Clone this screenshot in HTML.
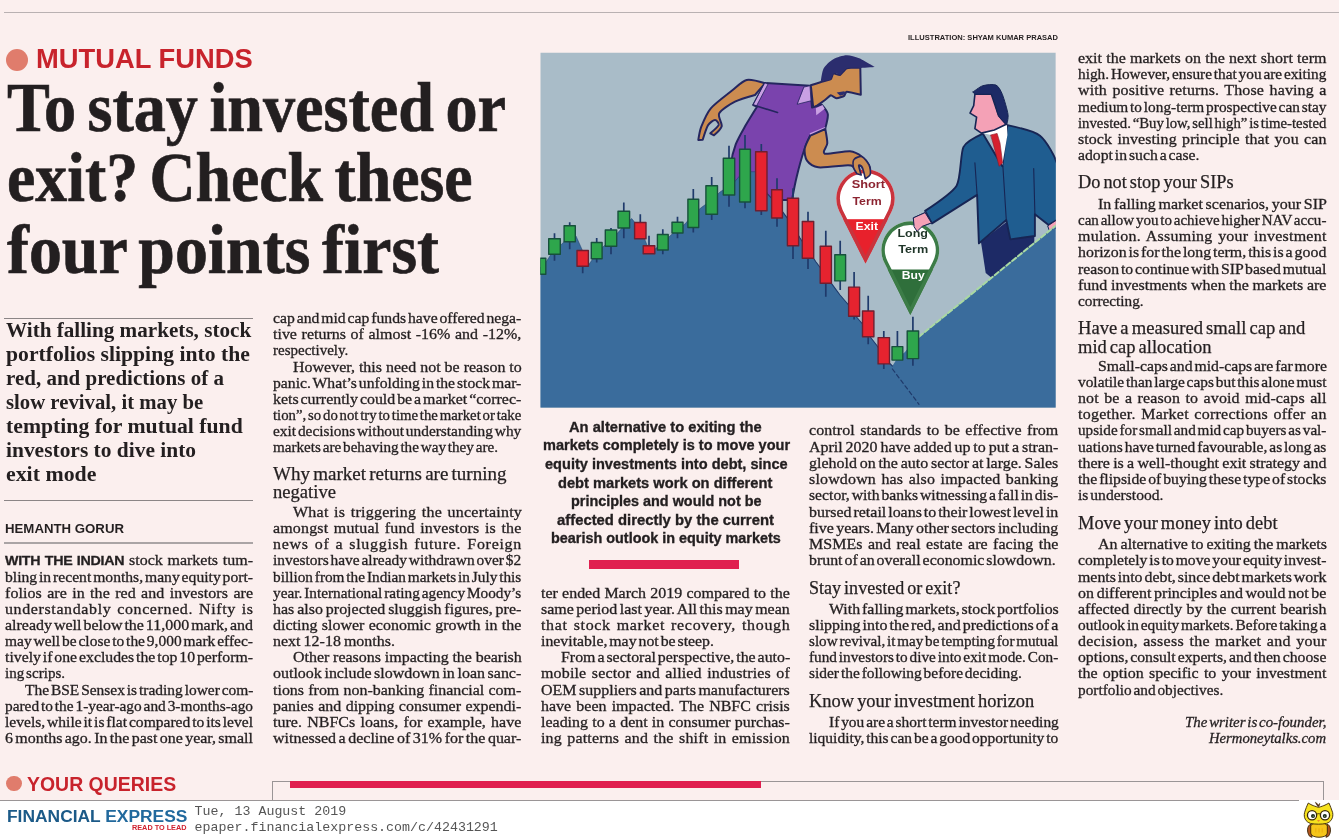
<!DOCTYPE html>
<html><head><meta charset="utf-8"><title>To stay invested or exit?</title>
<style>
html,body{margin:0;padding:0;overflow:hidden}
body{width:1339px;height:840px;position:relative;overflow:hidden;background:#fbefee;color:#231f20}
.t{position:absolute;white-space:pre;transform-origin:0 50%;margin:0}
.se{font-family:'Liberation Serif', serif}
.sa{font-family:'Liberation Sans', sans-serif}
.mo{font-family:'Liberation Mono', monospace}
.b{font-weight:bold}
.i{font-style:italic}
.lead{font-family:'Liberation Sans',sans-serif;font-weight:bold;font-size:13.2px;letter-spacing:-0.25px}
.r{position:absolute}
.bd{-webkit-text-stroke:0.3px #231f20}
</style></head><body>
<div class="r" style="left:4px;top:11.5px;width:1335px;height:1.3px;background:#b9b1b2"></div>
<div class="r" style="left:6px;top:49px;width:22px;height:22px;border-radius:50%;background:#e07c6c"></div>
<div class="r" style="left:4.3px;top:318px;width:249px;height:1.2px;background:#8b8586"></div>
<div class="r" style="left:4.3px;top:500px;width:249px;height:1.2px;background:#8b8586"></div>
<div class="r" style="left:4.3px;top:542.3px;width:249px;height:2px;background:#aaa4a5"></div>
<div class="r" style="left:588.8px;top:559.6px;width:150.2px;height:9.4px;background:#e01f4f"></div>
<div class="r" style="left:6px;top:775.8px;width:15.6px;height:15.6px;border-radius:50%;background:#e07c6c"></div>
<div class="r" style="left:0;top:800.6px;width:1339px;height:40px;background:#fff"></div>
<div class="r" style="left:271.5px;top:780.6px;width:1052px;height:20px;border:1px solid #9a9596;border-bottom:none;box-sizing:border-box"></div>
<div class="r" style="left:0;top:800px;width:1299px;height:1.2px;background:#9a9596"></div>
<div class="r" style="left:289.8px;top:781.3px;width:470.8px;height:7px;background:#e01f4f"></div>
<svg class="r" style="left:0;top:0;will-change:transform" width="1339" height="840" viewBox="0 0 1339 840">
<defs><clipPath id="ic"><rect x="540.3" y="52.5" width="515.5" height="355.3"/></clipPath></defs>
<g clip-path="url(#ic)" stroke-linejoin="round" stroke-linecap="round">
<rect x="540.3" y="52.5" width="515.5" height="355.3" fill="#a9bcc8"/>
<path d="M765.0,83.3 C765.0,83.3 751.1,79.0 746.7,80.0 C742.2,81.0 736.4,87.1 731.7,90.8 C726.9,94.6 714.9,103.6 710.8,108.3 C706.8,113.1 703.0,122.4 701.3,126.7 C699.7,130.9 698.3,140.0 698.3,140.0 C698.3,140.0 702.7,139.7 702.7,139.7 C702.7,139.7 706.4,128.0 708.0,125.3 C709.6,122.7 713.6,120.0 715.0,120.0 C716.4,120.0 719.3,123.2 718.7,125.0 C718.0,126.8 710.3,133.3 710.3,133.3 C710.3,133.3 714.0,135.3 714.0,135.3 C714.0,135.3 721.0,129.3 721.7,126.3 C722.4,123.4 717.4,116.6 719.2,113.3 C720.9,110.0 730.2,104.1 735.0,101.7 C739.8,99.2 755.0,95.0 755.0,95.0 C755.0,95.0 765.0,83.3 765.0,83.3 Z" fill="#cc8c50" stroke="#25265f" stroke-width="2"/>
<path d="M810.8,85.3 C810.8,85.3 820.0,82.2 821.7,81.7 C823.3,81.2 829.9,79.9 830.8,79.2 C831.8,78.5 832.6,73.7 833.3,73.3 C834.1,73.0 838.9,75.4 840.0,75.0 C841.1,74.6 845.0,69.0 846.7,68.3 C848.4,67.7 860.3,67.5 860.3,67.5 C860.3,67.5 860.8,94.7 860.8,94.7 C860.8,94.7 848.1,91.6 846.7,91.7 C845.3,91.8 845.0,95.3 844.2,95.8 C843.3,96.4 837.8,98.4 836.7,98.3 C835.6,98.3 831.8,95.2 830.8,95.3 C829.9,95.5 826.5,98.9 825.0,100.0 C823.5,101.1 813.3,108.3 813.3,108.3 C813.3,108.3 810.8,85.3 810.8,85.3 Z" fill="#cc8c50" stroke="#25265f" stroke-width="2"/>
<path d="M820.8,81.3 C820.8,81.3 822.0,71.3 823.7,68.3 C825.3,65.4 830.3,60.9 833.3,59.2 C836.4,57.4 843.2,55.4 846.7,55.3 C850.1,55.2 855.4,56.8 859.2,58.3 C862.9,59.9 874.7,67.0 874.7,67.0 C874.7,67.0 860.3,68.0 860.3,68.0 C860.3,68.0 849.3,67.4 846.7,68.3 C844.0,69.3 840.3,75.3 840.3,75.3 C840.3,75.3 835.4,72.4 834.2,73.0 C832.9,73.6 830.8,79.7 830.8,79.7 C830.8,79.7 820.8,81.3 820.8,81.3 Z" fill="#2b2d6e"/>
<polygon points="836.7,92.5 844.2,91.3 846.7,93.7 840.0,95.8" fill="#2b2d6e"/>
<path d="M765.0,83.0 C765.0,83.0 810.0,85.7 810.0,85.7 C810.0,85.7 812.0,107.5 812.0,107.5 C812.0,107.5 821.7,104.7 821.7,104.7 C821.7,104.7 827.3,111.0 827.8,114.2 C828.3,117.3 825.3,128.3 825.3,128.3 C825.3,128.3 810.3,135.3 810.3,135.3 C810.3,135.3 806.0,144.5 804.2,150.0 C802.3,155.5 798.3,170.0 796.7,176.7 C795.0,183.3 792.0,200.0 792.0,200.0 C792.0,200.0 730.0,200.0 730.0,200.0 C730.0,200.0 730.1,172.4 730.8,165.0 C731.6,157.6 733.8,149.5 735.8,144.2 C737.8,138.8 743.0,130.0 745.8,125.0 C748.7,120.0 757.0,106.7 757.0,106.7 C757.0,106.7 753.3,105.0 753.3,105.0 C753.3,105.0 765.0,83.0 765.0,83.0 Z" fill="#7a43ad" stroke="#25265f" stroke-width="2"/>
<polygon points="765.0,83.0 768.0,84.2 756.3,106.3 753.3,105.0" fill="#c9a0e3" stroke="#25265f" stroke-width="0.8"/>
<polyline points="753.3,105.0 777.5,112.5" fill="none" stroke="#25265f" stroke-width="1.7"/>
<polygon points="804.2,87.0 810.0,85.7 811.0,100.8 797.5,104.2" fill="#c9a0e3" stroke="#25265f" stroke-width="0.8"/>
<polygon points="815.8,108.3 822.5,105.0 824.7,108.7 816.3,115.3" fill="#c9a0e3"/>
<polygon points="809.7,133.3 825.0,127.0 825.7,129.7 810.3,136.0" fill="#c9a0e3"/>
<path d="M810.3,135.7 C810.3,135.7 825.3,129.0 825.3,129.0 C825.3,129.0 827.4,140.0 827.3,143.3 C827.2,146.6 821.6,152.6 824.7,153.7 C827.7,154.7 845.0,150.9 850.0,151.3 C855.0,151.7 859.5,154.8 862.0,156.7 C864.5,158.5 867.9,162.7 869.0,165.0 C870.1,167.3 870.8,172.3 870.3,174.2 C869.8,176.0 865.3,178.7 865.3,178.7 C865.3,178.7 863.2,169.1 862.3,167.3 C861.4,165.6 858.8,164.3 858.7,165.3 C858.5,166.4 861.2,175.0 861.2,175.0 C861.2,175.0 857.0,173.7 857.0,173.7 C857.0,173.7 854.5,168.1 853.3,167.0 C852.1,165.9 852.7,165.3 848.0,165.3 C843.3,165.4 823.8,168.0 818.3,167.3 C812.9,166.7 808.8,163.2 807.0,160.7 C805.2,158.2 804.2,152.0 804.7,148.7 C805.1,145.3 810.3,135.7 810.3,135.7 Z" fill="#cc8c50" stroke="#25265f" stroke-width="2"/>
<polygon points="980.9,241.4 1007.1,221.4 1034.3,231.4 1034.3,242.9 1025.7,260.0 994.3,280.0 985.7,272.9" fill="#1d2a66"/>
<path d="M982.9,133.7 C982.9,133.7 966.5,141.1 963.4,147.1 C960.4,153.2 961.0,178.3 956.6,185.7 C952.1,193.1 925.1,210.9 925.1,210.9 C925.1,210.9 932.0,223.4 932.0,223.4 C932.0,223.4 977.1,194.9 977.1,194.9 C977.1,194.9 978.9,243.4 978.9,243.4 C978.9,243.4 1006.3,220.0 1006.3,220.0 C1006.3,220.0 1010.3,239.4 1010.3,239.4 C1010.3,239.4 1034.9,236.0 1034.9,236.0 C1034.9,236.0 1034.9,214.3 1034.9,214.3 C1034.9,214.3 1048.6,225.1 1048.6,225.1 C1048.6,225.1 1057.1,220.0 1057.1,220.0 C1057.1,220.0 1059.7,176.1 1057.7,166.3 C1055.7,156.5 1045.9,140.5 1040.0,135.7 C1034.1,130.9 1007.4,125.1 1007.4,125.1 C1007.4,125.1 1002.3,166.3 1002.3,166.3 C1002.3,166.3 982.9,133.7 982.9,133.7 Z" fill="#1f5d90" stroke="#172554" stroke-width="1.9"/>
<polyline points="977.1,194.9 974.9,162.9" fill="none" stroke="#172554" stroke-width="1.1"/>
<polyline points="1034.9,214.3 1033.7,168.6" fill="none" stroke="#172554" stroke-width="1.1"/>
<polyline points="1006.3,220.0 1002.9,166.3" fill="none" stroke="#172554" stroke-width="1.1"/>
<polygon points="981.7,133.1 1006.9,124.6 1007.4,134.9 1002.3,165.1 991.4,134.9" fill="#fff"/>
<polygon points="990.9,134.9 997.1,133.4 1000.0,142.9 1002.6,162.9 999.1,166.3 993.1,143.4" fill="#d5212f" stroke="#8a1a28" stroke-width="0.6"/>
<polygon points="974.9,94.3 991.4,94.3 994.3,102.9 998.6,115.7 1006.3,124.3 994.3,130.0 981.4,133.1 974.9,128.6 976.6,117.1 970.0,113.1 973.7,105.7" fill="#f4a1b6" stroke="#172554" stroke-width="1.6"/>
<path d="M973.1,92.0 C973.1,92.0 979.8,86.6 982.9,85.7 C985.9,84.8 993.4,84.0 996.0,85.1 C998.6,86.3 1000.7,90.4 1002.3,94.3 C1003.9,98.2 1007.4,110.2 1008.0,114.3 C1008.6,118.4 1006.6,125.1 1006.6,125.1 C1006.6,125.1 1000.1,118.7 998.6,115.7 C997.0,112.7 995.8,105.7 994.9,102.9 C993.9,100.0 991.4,94.3 991.4,94.3 C991.4,94.3 974.9,94.3 974.9,94.3 C974.9,94.3 973.1,92.0 973.1,92.0 Z" fill="#1d2a66" stroke="#172554" stroke-width="1"/>
<polygon points="913.7,217.7 925.1,212.6 931.4,222.9 922.3,226.3 917.1,231.4 914.3,227.1" fill="#f4a1b6" stroke="#172554" stroke-width="1"/>
<polygon points="1048.0,225.7 1056.6,220.0 1057.7,227.1 1050.0,231.4" fill="#f4a1b6" stroke="#172554" stroke-width="1"/>
<polygon points="540.3,268.0 546.0,262.0 554.5,249.0 562.0,244.0 569.7,235.0 576.0,236.0 582.7,251.0 588.5,265.0 592.0,260.0 596.7,252.0 604.0,246.0 611.0,240.0 617.5,233.0 623.8,226.0 629.0,221.0 631.7,218.5 634.5,222.0 640.3,232.0 645.0,240.0 649.0,250.0 655.0,249.0 662.8,243.0 670.0,236.0 677.5,229.0 685.0,224.0 693.3,214.0 702.0,207.0 711.7,200.0 720.0,192.0 729.0,186.0 734.7,181.7 739.7,175.8 750.5,171.7 755.5,171.7 761.3,182.0 767.0,193.3 771.7,198.3 777.0,205.0 782.5,211.7 787.5,218.3 793.0,226.0 800.0,238.0 808.0,250.0 816.0,262.0 825.8,275.0 831.4,283.3 840.0,295.0 848.6,305.0 854.0,314.0 862.5,324.0 868.0,334.0 878.0,347.0 884.0,358.0 892.4,366.0 897.4,358.0 905.0,352.0 912.9,342.0 919.0,336.7 1025.7,250.0 1055.8,225.5 1055.8,407.8 540.3,407.8" fill="#3a6c9c"/>
<polyline points="755.5,171.7 761.3,182.0 767.0,193.3 771.7,198.3 777.0,205.0 782.5,211.7 787.5,218.3 793.0,226.0 800.0,238.0 808.0,250.0 816.0,262.0 825.8,275.0 831.4,283.3 840.0,295.0 848.6,305.0 854.0,314.0 862.5,324.0 868.0,334.0 878.0,347.0 884.0,358.0 892.4,366.0" fill="none" stroke="#1f3a6b" stroke-width="1.1"/>
<polyline points="540.3,268.0 546.0,262.0 554.5,249.0 562.0,244.0 569.7,235.0 576.0,236.0 582.7,251.0 588.5,265.0 592.0,260.0 596.7,252.0 604.0,246.0 611.0,240.0 617.5,233.0 623.8,226.0 629.0,221.0 631.7,218.5 634.5,222.0 640.3,232.0 645.0,240.0 649.0,250.0 655.0,249.0 662.8,243.0 670.0,236.0 677.5,229.0 685.0,224.0 693.3,214.0 702.0,207.0 711.7,200.0 720.0,192.0 729.0,186.0 734.7,181.7 739.7,175.8 750.5,171.7 755.5,171.7" fill="none" stroke="#1f3a6b" stroke-width="0.9" opacity="0.55"/>
<line x1="919" y1="336.7" x2="1055.8" y2="225.5" stroke="#a9d9a2" stroke-width="2" stroke-dasharray="5 2.5"/>
<line x1="892.4" y1="369" x2="919" y2="404.3" stroke="#1f3a6b" stroke-width="1.2" stroke-dasharray="4 3"/>
<line x1="542.9" y1="258.3" x2="542.9" y2="274.2" stroke="#1f3a6b" stroke-width="1.7" stroke-linecap="butt"/>
<rect x="540.0" y="258.3" width="5.8" height="15.9" fill="#2ea64c" stroke="#17503c" stroke-width="1.4"/>
<line x1="554.5" y1="233.3" x2="554.5" y2="260.8" stroke="#1f3a6b" stroke-width="1.7" stroke-linecap="butt"/>
<rect x="548.7" y="238.7" width="11.6" height="15.5" fill="#2ea64c" stroke="#17503c" stroke-width="1.4"/>
<line x1="569.7" y1="222.2" x2="569.7" y2="249.2" stroke="#1f3a6b" stroke-width="1.7" stroke-linecap="butt"/>
<rect x="564.1" y="225.8" width="11.2" height="15.9" fill="#2ea64c" stroke="#17503c" stroke-width="1.4"/>
<line x1="582.7" y1="250.5" x2="582.7" y2="273.3" stroke="#1f3a6b" stroke-width="1.7" stroke-linecap="butt"/>
<rect x="577.0" y="250.5" width="11.4" height="15.8" fill="#e6232f" stroke="#6e1f30" stroke-width="1.4"/>
<line x1="596.7" y1="238.0" x2="596.7" y2="262.5" stroke="#1f3a6b" stroke-width="1.7" stroke-linecap="butt"/>
<rect x="591.3" y="242.5" width="10.8" height="16.2" fill="#2ea64c" stroke="#17503c" stroke-width="1.4"/>
<line x1="611.0" y1="228.0" x2="611.0" y2="254.2" stroke="#1f3a6b" stroke-width="1.7" stroke-linecap="butt"/>
<rect x="605.3" y="230.0" width="11.4" height="16.2" fill="#2ea64c" stroke="#17503c" stroke-width="1.4"/>
<line x1="623.8" y1="202.5" x2="623.8" y2="238.3" stroke="#1f3a6b" stroke-width="1.7" stroke-linecap="butt"/>
<rect x="618.0" y="211.3" width="11.6" height="16.7" fill="#2ea64c" stroke="#17503c" stroke-width="1.4"/>
<line x1="640.3" y1="214.2" x2="640.3" y2="238.7" stroke="#1f3a6b" stroke-width="1.7" stroke-linecap="butt"/>
<rect x="634.6" y="222.5" width="11.4" height="16.2" fill="#e6232f" stroke="#6e1f30" stroke-width="1.4"/>
<line x1="649.0" y1="235.8" x2="649.0" y2="253.7" stroke="#1f3a6b" stroke-width="1.7" stroke-linecap="butt"/>
<rect x="643.2" y="245.8" width="11.6" height="7.9" fill="#e6232f" stroke="#6e1f30" stroke-width="1.4"/>
<line x1="662.8" y1="229.2" x2="662.8" y2="254.2" stroke="#1f3a6b" stroke-width="1.7" stroke-linecap="butt"/>
<rect x="657.4" y="234.5" width="10.8" height="15.5" fill="#2ea64c" stroke="#17503c" stroke-width="1.4"/>
<line x1="677.5" y1="216.7" x2="677.5" y2="238.3" stroke="#1f3a6b" stroke-width="1.7" stroke-linecap="butt"/>
<rect x="672.0" y="222.2" width="11.0" height="10.8" fill="#2ea64c" stroke="#17503c" stroke-width="1.4"/>
<line x1="693.3" y1="189.0" x2="693.3" y2="232.5" stroke="#1f3a6b" stroke-width="1.7" stroke-linecap="butt"/>
<rect x="687.9" y="199.2" width="10.8" height="28.3" fill="#2ea64c" stroke="#17503c" stroke-width="1.4"/>
<line x1="711.7" y1="177.0" x2="711.7" y2="220.0" stroke="#1f3a6b" stroke-width="1.7" stroke-linecap="butt"/>
<rect x="705.9" y="185.8" width="11.6" height="28.4" fill="#2ea64c" stroke="#17503c" stroke-width="1.4"/>
<line x1="729.0" y1="145.8" x2="729.0" y2="206.7" stroke="#1f3a6b" stroke-width="1.7" stroke-linecap="butt"/>
<rect x="723.3" y="158.3" width="11.4" height="36.7" fill="#2ea64c" stroke="#17503c" stroke-width="1.4"/>
<line x1="745.0" y1="135.0" x2="745.0" y2="208.3" stroke="#1f3a6b" stroke-width="1.7" stroke-linecap="butt"/>
<rect x="739.6" y="149.2" width="10.8" height="52.8" fill="#2ea64c" stroke="#17503c" stroke-width="1.4"/>
<line x1="761.3" y1="144.0" x2="761.3" y2="215.0" stroke="#1f3a6b" stroke-width="1.7" stroke-linecap="butt"/>
<rect x="755.6" y="151.7" width="11.4" height="59.1" fill="#e6232f" stroke="#6e1f30" stroke-width="1.4"/>
<line x1="777.0" y1="178.3" x2="777.0" y2="226.7" stroke="#1f3a6b" stroke-width="1.7" stroke-linecap="butt"/>
<rect x="771.6" y="189.7" width="10.8" height="28.3" fill="#e6232f" stroke="#6e1f30" stroke-width="1.4"/>
<line x1="793.0" y1="188.3" x2="793.0" y2="259.0" stroke="#1f3a6b" stroke-width="1.7" stroke-linecap="butt"/>
<rect x="787.4" y="198.3" width="11.2" height="47.5" fill="#e6232f" stroke="#6e1f30" stroke-width="1.4"/>
<line x1="808.0" y1="211.7" x2="808.0" y2="269.0" stroke="#1f3a6b" stroke-width="1.7" stroke-linecap="butt"/>
<rect x="802.3" y="221.5" width="11.4" height="36.8" fill="#e6232f" stroke="#6e1f30" stroke-width="1.4"/>
<line x1="825.8" y1="230.8" x2="825.8" y2="296.7" stroke="#1f3a6b" stroke-width="1.7" stroke-linecap="butt"/>
<rect x="820.2" y="246.3" width="11.2" height="37.0" fill="#e6232f" stroke="#6e1f30" stroke-width="1.4"/>
<line x1="840.2" y1="240.8" x2="840.2" y2="290.0" stroke="#1f3a6b" stroke-width="1.7" stroke-linecap="butt"/>
<rect x="834.8" y="254.8" width="10.8" height="26.1" fill="#2ea64c" stroke="#17503c" stroke-width="1.4"/>
<line x1="854.1" y1="271.9" x2="854.1" y2="319.5" stroke="#1f3a6b" stroke-width="1.7" stroke-linecap="butt"/>
<rect x="848.6" y="287.1" width="11.0" height="29.2" fill="#e6232f" stroke="#6e1f30" stroke-width="1.4"/>
<line x1="868.2" y1="295.7" x2="868.2" y2="344.3" stroke="#1f3a6b" stroke-width="1.7" stroke-linecap="butt"/>
<rect x="862.5" y="311.0" width="11.4" height="25.7" fill="#e6232f" stroke="#6e1f30" stroke-width="1.4"/>
<line x1="883.8" y1="331.0" x2="883.8" y2="369.0" stroke="#1f3a6b" stroke-width="1.7" stroke-linecap="butt"/>
<rect x="878.1" y="337.6" width="11.4" height="26.3" fill="#e6232f" stroke="#6e1f30" stroke-width="1.4"/>
<line x1="897.4" y1="331.0" x2="897.4" y2="360.1" stroke="#1f3a6b" stroke-width="1.7" stroke-linecap="butt"/>
<rect x="892.0" y="346.6" width="10.8" height="13.5" fill="#2ea64c" stroke="#17503c" stroke-width="1.4"/>
<line x1="912.9" y1="316.7" x2="912.9" y2="365.8" stroke="#1f3a6b" stroke-width="1.7" stroke-linecap="butt"/>
<rect x="907.2" y="331.0" width="11.4" height="27.6" fill="#2ea64c" stroke="#17503c" stroke-width="1.4"/>
<clipPath id="pc865"><path d="M839.42,211.74 A29.2,29.2 0 1 1 891.58,211.74 L865.5,263.5 Z"/></clipPath><path d="M839.42,211.74 A29.2,29.2 0 1 1 891.58,211.74 L865.5,263.5 Z" fill="#fff"/><rect x="834.3" y="219.2" width="62.4" height="46.30000000000001" fill="#e8212c" clip-path="url(#pc865)"/><path d="M839.42,211.74 A29.2,29.2 0 1 1 891.58,211.74 L865.5,263.5 Z" fill="none" stroke="#c9333d" stroke-width="7.2" clip-path="url(#pc865)"/>
<clipPath id="pc910"><path d="M884.43,263.09 A28.9,28.9 0 1 1 936.17,263.09 L910.3,315.0 Z"/></clipPath><path d="M884.43,263.09 A28.9,28.9 0 1 1 936.17,263.09 L910.3,315.0 Z" fill="#fff"/><rect x="879.4" y="269.5" width="61.8" height="47.5" fill="#2f6f3b" clip-path="url(#pc910)"/><path d="M884.43,263.09 A28.9,28.9 0 1 1 936.17,263.09 L910.3,315.0 Z" fill="none" stroke="#3c7c47" stroke-width="7.2" clip-path="url(#pc910)"/>
<path d="M853.3,167.0 C853.7,168.9 857.0,173.7 857.0,173.7 C857.0,173.7 861.2,175.0 861.2,175.0 C861.2,175.0 858.5,166.4 858.7,165.3 C858.8,164.3 861.4,165.6 862.3,167.3 C863.2,169.1 865.3,178.7 865.3,178.7 C865.3,178.7 869.8,176.0 870.3,174.2 C870.8,172.3 870.1,167.3 869.0,165.0 C867.9,162.7 864.0,157.4 862.0,156.7 C860.0,155.9 855.3,157.8 854.2,159.2 C853.0,160.5 853.0,165.1 853.3,167.0 Z" fill="#cc8c50" stroke="#25265f" stroke-width="1.6"/>
<polygon points="913.7,217.7 925.1,212.6 931.4,222.9 922.3,226.3 917.1,231.4 914.3,227.1" fill="#f4a1b6" stroke="#172554" stroke-width="1"/>
</g>
<text x="851.7" y="187.5" textLength="33.3" lengthAdjust="spacingAndGlyphs" font-family="'Liberation Sans', sans-serif" font-weight="bold" font-size="11.4" fill="#8c2431">Short</text>
<text x="852.5" y="204.7" textLength="29.2" lengthAdjust="spacingAndGlyphs" font-family="'Liberation Sans', sans-serif" font-weight="bold" font-size="11.4" fill="#8c2431">Term</text>
<text x="855.5" y="229.7" textLength="22.5" lengthAdjust="spacingAndGlyphs" font-family="'Liberation Sans', sans-serif" font-weight="bold" font-size="11.4" fill="#fff">Exit</text>
<text x="897.5" y="236.7" textLength="30.5" lengthAdjust="spacingAndGlyphs" font-family="'Liberation Sans', sans-serif" font-weight="bold" font-size="11.4" fill="#1f3528">Long</text>
<text x="898.3" y="253.3" textLength="30.0" lengthAdjust="spacingAndGlyphs" font-family="'Liberation Sans', sans-serif" font-weight="bold" font-size="11.4" fill="#1f3528">Term</text>
<text x="901.7" y="279.3" textLength="23.0" lengthAdjust="spacingAndGlyphs" font-family="'Liberation Sans', sans-serif" font-weight="bold" font-size="11.4" fill="#fff">Buy</text>
</svg>
<div class="r" style="left:1298.6px;top:799.6px;width:41px;height:41px;background:#fff"></div>
<svg class="r" style="left:1289px;top:795px" width="50" height="45" viewBox="0 0 933 840">
<g stroke="#3a2708" stroke-width="17" stroke-linejoin="round">
<path d="M410,545 C335,560 325,700 385,770 L430,790 Z" fill="#b2551f"/>
<path d="M710,545 C785,560 795,700 735,770 L690,790 Z" fill="#b2551f"/>
<path d="M405,580 C405,500 715,500 715,580 L715,710 C715,815 405,815 405,710 Z" fill="#f6c61a"/>
<path d="M540,215 C520,190 500,160 490,135 C520,150 540,170 548,190 C556,170 566,160 576,155 C574,180 568,200 560,215 Z" fill="#5a2a10" stroke-width="8"/>
<path d="M360,150 C400,175 440,200 552,230 C660,200 700,175 745,150 C770,200 790,260 815,330 C830,420 790,500 700,530 C620,550 480,550 400,530 C310,500 270,420 290,330 C310,260 335,200 360,150 Z" fill="#f6e21e"/>
<circle cx="430" cy="378" r="86" fill="#fff" stroke-width="24"/>
<circle cx="672" cy="378" r="86" fill="#fff" stroke-width="24"/>
<path d="M516,360 C540,345 565,345 586,360" fill="none" stroke-width="18"/>
</g>
<circle cx="448" cy="392" r="38" fill="#1c2a1c"/><circle cx="668" cy="392" r="38" fill="#1c2a1c"/>
<circle cx="452" cy="395" r="14" fill="#6b8a6b"/><circle cx="664" cy="395" r="14" fill="#6b8a6b"/>
<path d="M522,465 L580,465 L551,505 Z" fill="#f08a2c"/>
<path d="M500,620 L500,700 M560,620 L560,700 M620,620 L620,700" stroke="#eeb010" stroke-width="22" fill="none"/>
</svg>

<div id="tx" style="position:absolute;left:0;top:0;width:1339px;height:840px;will-change:transform">
<div class="t se bd" style="left:5.40px;top:552px;line-height:16px;font-size:14.8px;word-spacing:0.685px;transform:scaleX(1.0800)"><b class="lead">WITH THE INDIAN</b> stock markets tum-</div>
<div class="t se bd" style="left:5.40px;top:569px;line-height:16px;font-size:14.8px;word-spacing:-1.900px;transform:scaleX(1.0563)">bling in recent months, many equity port-</div>
<div class="t se bd" style="left:5.40px;top:585px;line-height:16px;font-size:14.8px;word-spacing:1.200px;letter-spacing:0.059px;transform:scaleX(1.0800)">folios are in the red and investors are</div>
<div class="t se bd" style="left:5.40px;top:601px;line-height:16px;font-size:14.8px;word-spacing:1.200px;letter-spacing:0.574px;transform:scaleX(1.0800)">understandably concerned. Nifty is</div>
<div class="t se bd" style="left:5.40px;top:617px;line-height:16px;font-size:14.8px;word-spacing:-1.900px;transform:scaleX(1.0798)">already well below the 11,000 mark, and</div>
<div class="t se bd" style="left:5.40px;top:633px;line-height:16px;font-size:14.8px;word-spacing:-1.900px;transform:scaleX(1.0454)">may well be close to the 9,000 mark effec-</div>
<div class="t se bd" style="left:5.40px;top:649px;line-height:16px;font-size:14.8px;word-spacing:-1.900px;transform:scaleX(1.0651)">tively if one excludes the top 10 perform-</div>
<div class="t se bd" style="left:5.40px;top:665px;line-height:16px;font-size:14.8px;word-spacing:-1.900px;transform:scaleX(1.0199)">ing scrips.</div>
<div class="t se bd" style="left:24.90px;top:682px;line-height:16px;font-size:14.8px;word-spacing:-1.900px;transform:scaleX(1.0446)">The BSE Sensex is trading lower com-</div>
<div class="t se bd" style="left:5.40px;top:698px;line-height:16px;font-size:14.8px;word-spacing:-1.900px;transform:scaleX(1.0386)">pared to the 1-year-ago and 3-months-ago</div>
<div class="t se bd" style="left:5.40px;top:714px;line-height:16px;font-size:14.8px;word-spacing:-1.900px;transform:scaleX(1.0514)">levels, while it is flat compared to its level</div>
<div class="t se bd" style="left:5.40px;top:730px;line-height:16px;font-size:14.8px;word-spacing:-1.529px;transform:scaleX(1.0800)">6 months ago. In the past one year, small</div>
<div class="t se bd" style="left:273.00px;top:310px;line-height:16px;font-size:14.8px;word-spacing:-1.900px;transform:scaleX(1.0603)">cap and mid cap funds have offered nega-</div>
<div class="t se bd" style="left:273.00px;top:326px;line-height:16px;font-size:14.8px;word-spacing:0.581px;transform:scaleX(1.0800)">tive returns of almost -16% and -12%,</div>
<div class="t se bd" style="left:273.00px;top:342px;line-height:16px;font-size:14.8px;transform:scaleX(1.0144)">respectively.</div>
<div class="t se bd" style="left:292.50px;top:359px;line-height:16px;font-size:14.8px;transform:scaleX(1.0800)">However, this need not be reason to</div>
<div class="t se bd" style="left:273.00px;top:375px;line-height:16px;font-size:14.8px;word-spacing:-1.900px;transform:scaleX(1.0602)">panic. What’s unfolding in the stock mar-</div>
<div class="t se bd" style="left:273.00px;top:391px;line-height:16px;font-size:14.8px;word-spacing:-1.900px;transform:scaleX(1.0749)">kets currently could be a market “correc-</div>
<div class="t se bd" style="left:273.00px;top:407px;line-height:16px;font-size:14.8px;word-spacing:-1.900px;transform:scaleX(0.9991)">tion”, so do not try to time the market or take</div>
<div class="t se bd" style="left:273.00px;top:423px;line-height:16px;font-size:14.8px;word-spacing:-1.900px;transform:scaleX(1.0389)">exit decisions without understanding why</div>
<div class="t se bd" style="left:273.00px;top:439px;line-height:16px;font-size:14.8px;word-spacing:-1.900px;transform:scaleX(1.0231)">markets are behaving the way they are.</div>
<div class="t se bd" style="left:292.50px;top:504px;line-height:16px;font-size:14.8px;word-spacing:1.200px;letter-spacing:0.223px;transform:scaleX(1.0800)">What is triggering the uncertainty</div>
<div class="t se bd" style="left:273.00px;top:520px;line-height:16px;font-size:14.8px;word-spacing:1.200px;letter-spacing:0.162px;transform:scaleX(1.0800)">amongst mutual fund investors is the</div>
<div class="t se bd" style="left:273.00px;top:536px;line-height:16px;font-size:14.8px;word-spacing:1.200px;letter-spacing:0.658px;transform:scaleX(1.0800)">news of a sluggish future. Foreign</div>
<div class="t se bd" style="left:273.00px;top:552px;line-height:16px;font-size:14.8px;word-spacing:-1.900px;transform:scaleX(1.0420)">investors have already withdrawn over $2</div>
<div class="t se bd" style="left:273.00px;top:569px;line-height:16px;font-size:14.8px;word-spacing:-1.900px;transform:scaleX(1.0334)">billion from the Indian markets in July this</div>
<div class="t se bd" style="left:273.00px;top:585px;line-height:16px;font-size:14.8px;word-spacing:-1.900px;transform:scaleX(1.0338)">year. International rating agency Moody’s</div>
<div class="t se bd" style="left:273.00px;top:601px;line-height:16px;font-size:14.8px;word-spacing:-1.028px;transform:scaleX(1.0800)">has also projected sluggish figures, pre-</div>
<div class="t se bd" style="left:273.00px;top:617px;line-height:16px;font-size:14.8px;word-spacing:0.366px;transform:scaleX(1.0800)">dicting slower economic growth in the</div>
<div class="t se bd" style="left:273.00px;top:633px;line-height:16px;font-size:14.8px;word-spacing:-0.854px;transform:scaleX(1.0800)">next 12-18 months.</div>
<div class="t se bd" style="left:292.50px;top:649px;line-height:16px;font-size:14.8px;word-spacing:-0.248px;transform:scaleX(1.0800)">Other reasons impacting the bearish</div>
<div class="t se bd" style="left:273.00px;top:665px;line-height:16px;font-size:14.8px;word-spacing:-1.281px;transform:scaleX(1.0800)">outlook include slowdown in loan sanc-</div>
<div class="t se bd" style="left:273.00px;top:682px;line-height:16px;font-size:14.8px;word-spacing:0.153px;transform:scaleX(1.0800)">tions from non-banking financial com-</div>
<div class="t se bd" style="left:273.00px;top:698px;line-height:16px;font-size:14.8px;word-spacing:0.356px;transform:scaleX(1.0800)">panies and dipping consumer expendi-</div>
<div class="t se bd" style="left:273.00px;top:714px;line-height:16px;font-size:14.8px;word-spacing:1.200px;letter-spacing:0.010px;transform:scaleX(1.0800)">ture. NBFCs loans, for example, have</div>
<div class="t se bd" style="left:273.00px;top:730px;line-height:16px;font-size:14.8px;word-spacing:-1.335px;transform:scaleX(1.0800)">witnessed a decline of 31% for the quar-</div>
<div class="t se bd" style="left:541.00px;top:585px;line-height:16px;font-size:14.8px;word-spacing:0.184px;transform:scaleX(1.0800)">ter ended March 2019 compared to the</div>
<div class="t se bd" style="left:541.00px;top:601px;line-height:16px;font-size:14.8px;word-spacing:-1.373px;transform:scaleX(1.0800)">same period last year. All this may mean</div>
<div class="t se bd" style="left:541.00px;top:617px;line-height:16px;font-size:14.8px;word-spacing:1.200px;letter-spacing:0.626px;transform:scaleX(1.0800)">that stock market recovery, though</div>
<div class="t se bd" style="left:541.00px;top:633px;line-height:16px;font-size:14.8px;word-spacing:-1.900px;transform:scaleX(1.0699)">inevitable, may not be steep.</div>
<div class="t se bd" style="left:560.50px;top:649px;line-height:16px;font-size:14.8px;word-spacing:-1.900px;transform:scaleX(1.0755)">From a sectoral perspective, the auto-</div>
<div class="t se bd" style="left:541.00px;top:665px;line-height:16px;font-size:14.8px;word-spacing:1.200px;letter-spacing:0.144px;transform:scaleX(1.0800)">mobile sector and allied industries of</div>
<div class="t se bd" style="left:541.00px;top:682px;line-height:16px;font-size:14.8px;word-spacing:-1.376px;transform:scaleX(1.0800)">OEM suppliers and parts manufacturers</div>
<div class="t se bd" style="left:541.00px;top:698px;line-height:16px;font-size:14.8px;word-spacing:1.090px;transform:scaleX(1.0800)">have been impacted. The NBFC crisis</div>
<div class="t se bd" style="left:541.00px;top:714px;line-height:16px;font-size:14.8px;word-spacing:0.182px;transform:scaleX(1.0800)">leading to a dent in consumer purchas-</div>
<div class="t se bd" style="left:541.00px;top:730px;line-height:16px;font-size:14.8px;word-spacing:1.200px;letter-spacing:0.144px;transform:scaleX(1.0800)">ing patterns and the shift in emission</div>
<div class="t se bd" style="left:809.00px;top:422px;line-height:16px;font-size:14.8px;word-spacing:1.200px;letter-spacing:0.076px;transform:scaleX(1.0800)">control standards to be effective from</div>
<div class="t se bd" style="left:809.00px;top:439px;line-height:16px;font-size:14.8px;word-spacing:-1.040px;transform:scaleX(1.0800)">April 2020 have added up to put a stran-</div>
<div class="t se bd" style="left:809.00px;top:455px;line-height:16px;font-size:14.8px;word-spacing:-1.149px;transform:scaleX(1.0800)">glehold on the auto sector at large. Sales</div>
<div class="t se bd" style="left:809.00px;top:471px;line-height:16px;font-size:14.8px;word-spacing:1.200px;letter-spacing:0.150px;transform:scaleX(1.0800)">slowdown has also impacted banking</div>
<div class="t se bd" style="left:809.00px;top:487px;line-height:16px;font-size:14.8px;word-spacing:-1.900px;transform:scaleX(1.0602)">sector, with banks witnessing a fall in dis-</div>
<div class="t se bd" style="left:809.00px;top:504px;line-height:16px;font-size:14.8px;word-spacing:-1.900px;transform:scaleX(1.0783)">bursed retail loans to their lowest level in</div>
<div class="t se bd" style="left:809.00px;top:520px;line-height:16px;font-size:14.8px;word-spacing:-1.499px;transform:scaleX(1.0800)">five years. Many other sectors including</div>
<div class="t se bd" style="left:809.00px;top:536px;line-height:16px;font-size:14.8px;word-spacing:1.200px;letter-spacing:0.050px;transform:scaleX(1.0800)">MSMEs and real estate are facing the</div>
<div class="t se bd" style="left:809.00px;top:552px;line-height:16px;font-size:14.8px;word-spacing:-1.900px;transform:scaleX(1.0738)">brunt of an overall economic slowdown.</div>
<div class="t se bd" style="left:828.50px;top:601px;line-height:16px;font-size:14.8px;word-spacing:-1.900px;transform:scaleX(1.0732)">With falling markets, stock portfolios</div>
<div class="t se bd" style="left:809.00px;top:617px;line-height:16px;font-size:14.8px;word-spacing:-1.778px;transform:scaleX(1.0800)">slipping into the red, and predictions of a</div>
<div class="t se bd" style="left:809.00px;top:633px;line-height:16px;font-size:14.8px;word-spacing:-1.900px;transform:scaleX(1.0219)">slow revival, it may be tempting for mutual</div>
<div class="t se bd" style="left:809.00px;top:649px;line-height:16px;font-size:14.8px;word-spacing:-1.900px;transform:scaleX(1.0322)">fund investors to dive into exit mode. Con-</div>
<div class="t se bd" style="left:809.00px;top:665px;line-height:16px;font-size:14.8px;word-spacing:-1.900px;transform:scaleX(1.0435)">sider the following before deciding.</div>
<div class="t se bd" style="left:828.50px;top:714px;line-height:16px;font-size:14.8px;word-spacing:-1.900px;transform:scaleX(1.0422)">If you are a short term investor needing</div>
<div class="t se bd" style="left:809.00px;top:730px;line-height:16px;font-size:14.8px;word-spacing:-1.900px;transform:scaleX(1.0471)">liquidity, this can be a good opportunity to</div>
<div class="t se bd" style="left:1078.00px;top:50px;line-height:16px;font-size:14.8px;word-spacing:0.277px;transform:scaleX(1.0800)">exit the markets on the next short term</div>
<div class="t se bd" style="left:1078.00px;top:66px;line-height:16px;font-size:14.8px;word-spacing:-1.900px;transform:scaleX(1.0337)">high. However, ensure that you are exiting</div>
<div class="t se bd" style="left:1078.00px;top:82px;line-height:16px;font-size:14.8px;word-spacing:1.200px;letter-spacing:0.134px;transform:scaleX(1.0800)">with positive returns. Those having a</div>
<div class="t se bd" style="left:1078.00px;top:99px;line-height:16px;font-size:14.8px;word-spacing:-1.900px;transform:scaleX(1.0353)">medium to long-term prospective can stay</div>
<div class="t se bd" style="left:1078.00px;top:115px;line-height:16px;font-size:14.8px;word-spacing:-1.900px;transform:scaleX(0.9976)">invested. “Buy low, sell high” is time-tested</div>
<div class="t se bd" style="left:1078.00px;top:131px;line-height:16px;font-size:14.8px;word-spacing:1.200px;letter-spacing:0.068px;transform:scaleX(1.0800)">stock investing principle that you can</div>
<div class="t se bd" style="left:1078.00px;top:147px;line-height:16px;font-size:14.8px;word-spacing:-1.900px;transform:scaleX(1.0618)">adopt in such a case.</div>
<div class="t se bd" style="left:1097.50px;top:196px;line-height:16px;font-size:14.8px;word-spacing:-1.170px;transform:scaleX(1.0800)">In falling market scenarios, your SIP</div>
<div class="t se bd" style="left:1078.00px;top:212px;line-height:16px;font-size:14.8px;word-spacing:-1.900px;transform:scaleX(1.0155)">can allow you to achieve higher NAV accu-</div>
<div class="t se bd" style="left:1078.00px;top:228px;line-height:16px;font-size:14.8px;word-spacing:1.200px;letter-spacing:0.234px;transform:scaleX(1.0800)">mulation. Assuming your investment</div>
<div class="t se bd" style="left:1078.00px;top:244px;line-height:16px;font-size:14.8px;word-spacing:-1.900px;transform:scaleX(1.0747)">horizon is for the long term, this is a good</div>
<div class="t se bd" style="left:1078.00px;top:261px;line-height:16px;font-size:14.8px;word-spacing:-1.900px;transform:scaleX(1.0624)">reason to continue with SIP based mutual</div>
<div class="t se bd" style="left:1078.00px;top:277px;line-height:16px;font-size:14.8px;word-spacing:-0.269px;transform:scaleX(1.0800)">fund investments when the markets are</div>
<div class="t se bd" style="left:1078.00px;top:293px;line-height:16px;font-size:14.8px;transform:scaleX(1.0300)">correcting.</div>
<div class="t se bd" style="left:1097.50px;top:358px;line-height:16px;font-size:14.8px;word-spacing:-1.900px;transform:scaleX(1.0634)">Small-caps and mid-caps are far more</div>
<div class="t se bd" style="left:1078.00px;top:374px;line-height:16px;font-size:14.8px;word-spacing:-1.900px;transform:scaleX(1.0387)">volatile than large caps but this alone must</div>
<div class="t se bd" style="left:1078.00px;top:390px;line-height:16px;font-size:14.8px;word-spacing:1.200px;letter-spacing:0.117px;transform:scaleX(1.0800)">not be a reason to avoid mid-caps all</div>
<div class="t se bd" style="left:1078.00px;top:406px;line-height:16px;font-size:14.8px;word-spacing:1.200px;letter-spacing:0.226px;transform:scaleX(1.0800)">together. Market corrections offer an</div>
<div class="t se bd" style="left:1078.00px;top:422px;line-height:16px;font-size:14.8px;word-spacing:-1.900px;transform:scaleX(1.0263)">upside for small and mid cap buyers as val-</div>
<div class="t se bd" style="left:1078.00px;top:439px;line-height:16px;font-size:14.8px;word-spacing:-1.900px;transform:scaleX(1.0472)">uations have turned favourable, as long as</div>
<div class="t se bd" style="left:1078.00px;top:455px;line-height:16px;font-size:14.8px;word-spacing:-0.703px;transform:scaleX(1.0800)">there is a well-thought exit strategy and</div>
<div class="t se bd" style="left:1078.00px;top:471px;line-height:16px;font-size:14.8px;word-spacing:-1.900px;transform:scaleX(1.0630)">the flipside of buying these type of stocks</div>
<div class="t se bd" style="left:1078.00px;top:487px;line-height:16px;font-size:14.8px;word-spacing:-1.900px;transform:scaleX(1.0538)">is understood.</div>
<div class="t se bd" style="left:1097.50px;top:536px;line-height:16px;font-size:14.8px;word-spacing:-0.920px;transform:scaleX(1.0800)">An alternative to exiting the markets</div>
<div class="t se bd" style="left:1078.00px;top:552px;line-height:16px;font-size:14.8px;word-spacing:-1.900px;transform:scaleX(1.0562)">completely is to move your equity invest-</div>
<div class="t se bd" style="left:1078.00px;top:569px;line-height:16px;font-size:14.8px;word-spacing:-1.900px;transform:scaleX(1.0731)">ments into debt, since debt markets work</div>
<div class="t se bd" style="left:1078.00px;top:585px;line-height:16px;font-size:14.8px;word-spacing:-1.208px;transform:scaleX(1.0800)">on different principles and would not be</div>
<div class="t se bd" style="left:1078.00px;top:601px;line-height:16px;font-size:14.8px;word-spacing:0.288px;transform:scaleX(1.0800)">affected directly by the current bearish</div>
<div class="t se bd" style="left:1078.00px;top:617px;line-height:16px;font-size:14.8px;word-spacing:-1.900px;transform:scaleX(1.0399)">outlook in equity markets. Before taking a</div>
<div class="t se bd" style="left:1078.00px;top:633px;line-height:16px;font-size:14.8px;word-spacing:1.200px;letter-spacing:0.248px;transform:scaleX(1.0800)">decision, assess the market and your</div>
<div class="t se bd" style="left:1078.00px;top:649px;line-height:16px;font-size:14.8px;word-spacing:-1.900px;transform:scaleX(1.0644)">options, consult experts, and then choose</div>
<div class="t se bd" style="left:1078.00px;top:665px;line-height:16px;font-size:14.8px;word-spacing:1.200px;transform:scaleX(1.0800)">the option specific to your investment</div>
<div class="t se bd" style="left:1078.00px;top:682px;line-height:16px;font-size:14.8px;word-spacing:-1.900px;transform:scaleX(1.0346)">portfolio and objectives.</div>
<div class="t se i bd" style="left:1184.70px;top:714px;line-height:16px;font-size:14.8px;word-spacing:-1.900px;transform:scaleX(1.0055)">The writer is co-founder,</div>
<div class="t se i bd" style="left:1209.00px;top:730px;line-height:16px;font-size:14.8px;transform:scaleX(0.9921)">Hermoneytalks.com</div>
<div class="t se" style="left:273.00px;top:464px;line-height:20px;font-size:18.0px;word-spacing:-1.5px;-webkit-text-stroke:0.25px #231f20;transform:scaleX(1.0569)">Why market returns are turning</div>
<div class="t se" style="left:273.00px;top:482px;line-height:20px;font-size:18.0px;word-spacing:-1.5px;-webkit-text-stroke:0.25px #231f20;transform:scaleX(1.0331)">negative</div>
<div class="t se" style="left:809.00px;top:578px;line-height:20px;font-size:18.0px;word-spacing:-1.5px;-webkit-text-stroke:0.25px #231f20;transform:scaleX(1.0029)">Stay invested or exit?</div>
<div class="t se" style="left:809.00px;top:691px;line-height:20px;font-size:18.0px;word-spacing:-1.5px;-webkit-text-stroke:0.25px #231f20;transform:scaleX(1.0242)">Know your investment horizon</div>
<div class="t se" style="left:1078.00px;top:172px;line-height:20px;font-size:18.0px;word-spacing:-1.5px;-webkit-text-stroke:0.25px #231f20;transform:scaleX(1.0168)">Do not stop your SIPs</div>
<div class="t se" style="left:1078.00px;top:318px;line-height:20px;font-size:18.0px;word-spacing:-1.5px;-webkit-text-stroke:0.25px #231f20;transform:scaleX(1.0336)">Have a measured small cap and</div>
<div class="t se" style="left:1078.00px;top:337px;line-height:20px;font-size:18.0px;word-spacing:-1.5px;-webkit-text-stroke:0.25px #231f20;transform:scaleX(1.0273)">mid cap allocation</div>
<div class="t se" style="left:1078.00px;top:513px;line-height:20px;font-size:18.0px;word-spacing:-1.5px;-webkit-text-stroke:0.25px #231f20;transform:scaleX(1.0232)">Move your money into debt</div>
<div class="t se b" style="left:5.60px;top:319px;line-height:22px;font-size:20.2px;transform:scaleX(1.0477)">With falling markets, stock</div>
<div class="t se b" style="left:5.60px;top:343px;line-height:22px;font-size:20.2px;transform:scaleX(1.0737)">portfolios slipping into the</div>
<div class="t se b" style="left:5.60px;top:367px;line-height:22px;font-size:20.2px;transform:scaleX(1.0397)">red, and predictions of a</div>
<div class="t se b" style="left:5.60px;top:391px;line-height:22px;font-size:20.2px;transform:scaleX(1.0273)">slow revival, it may be</div>
<div class="t se b" style="left:5.60px;top:415px;line-height:22px;font-size:20.2px;transform:scaleX(1.0761)">tempting for mutual fund</div>
<div class="t se b" style="left:5.60px;top:439px;line-height:22px;font-size:20.2px;transform:scaleX(1.0627)">investors to dive into</div>
<div class="t se b" style="left:5.60px;top:463px;line-height:22px;font-size:20.2px;transform:scaleX(1.0822)">exit mode</div>
<div class="t se b" style="left:7.00px;top:69px;line-height:77px;font-size:70.0px;word-spacing:-5px;-webkit-text-stroke:0.7px #231f20;transform:scaleX(0.9166)">To stay invested or</div>
<div class="t se b" style="left:7.00px;top:139px;line-height:77px;font-size:70.0px;word-spacing:-5px;-webkit-text-stroke:0.7px #231f20;transform:scaleX(0.9111)">exit? Check these</div>
<div class="t se b" style="left:6.70px;top:211px;line-height:77px;font-size:70.0px;word-spacing:-5px;-webkit-text-stroke:0.7px #231f20;transform:scaleX(0.9406)">four points first</div>
<div class="t sa b" style="left:35.60px;top:42px;line-height:32px;font-size:28.4px;color:#c8232c;transform:scaleX(0.9630)">MUTUAL FUNDS</div>
<div class="t sa b" style="left:27.20px;top:773px;line-height:22px;font-size:20.4px;color:#c8232c;transform:scaleX(0.9536)">YOUR QUERIES</div>
<div class="t sa b" style="left:5.00px;top:521px;line-height:15px;font-size:13.3px;transform:scaleX(0.9944)">HEMANTH GORUR</div>
<div class="t sa b" style="left:907.80px;top:33px;line-height:9px;font-size:7.9px;transform:scaleX(0.9558)">ILLUSTRATION: SHYAM KUMAR PRASAD</div>
<div class="t sa b" style="left:569.40px;top:419px;line-height:16px;font-size:14.8px;-webkit-text-stroke:0.35px #231f20;transform:scaleX(0.9931)">An alternative to exiting the</div>
<div class="t sa b" style="left:542.60px;top:437px;line-height:16px;font-size:14.8px;-webkit-text-stroke:0.35px #231f20;transform:scaleX(0.9819)">markets completely is to move your</div>
<div class="t sa b" style="left:544.80px;top:456px;line-height:16px;font-size:14.8px;-webkit-text-stroke:0.35px #231f20;transform:scaleX(0.9839)">equity investments into debt, since</div>
<div class="t sa b" style="left:558.40px;top:475px;line-height:16px;font-size:14.8px;-webkit-text-stroke:0.35px #231f20;transform:scaleX(0.9910)">debt markets work on different</div>
<div class="t sa b" style="left:570.50px;top:493px;line-height:16px;font-size:14.8px;-webkit-text-stroke:0.35px #231f20;transform:scaleX(0.9736)">principles and would not be</div>
<div class="t sa b" style="left:557.30px;top:512px;line-height:16px;font-size:14.8px;-webkit-text-stroke:0.35px #231f20;transform:scaleX(1.0029)">affected directly by the current</div>
<div class="t sa b" style="left:550.70px;top:530px;line-height:16px;font-size:14.8px;-webkit-text-stroke:0.35px #231f20;transform:scaleX(0.9734)">bearish outlook in equity markets</div>
<div class="t sa b" style="left:6.60px;top:806px;line-height:20px;font-size:17.4px;color:#1f6291;transform:scaleX(1.0001)"><span style="color:#1b5a88">FINANCIAL</span> <span style="color:#21699d">EXPRESS</span></div>
<div class="t sa b" style="left:132.30px;top:824px;line-height:7px;font-size:7.0px;color:#d0202e;transform:scaleX(1.0406)">READ TO LEAD</div>
<div class="t mo" style="left:194.60px;top:804px;line-height:15px;font-size:13.3px;color:#555">Tue, 13 August 2019</div>
<div class="t mo" style="left:194.60px;top:820px;line-height:15px;font-size:13.3px;color:#555">epaper.financialexpress.com/c/42431291</div>
</div>
</body></html>
